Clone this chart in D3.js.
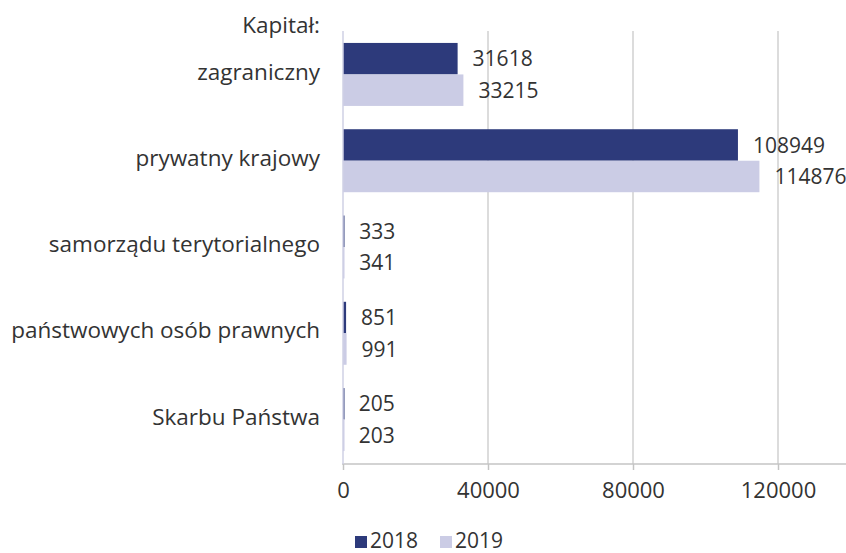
<!DOCTYPE html>
<html>
<head>
<meta charset="utf-8">
<script src="https://cdn.jsdelivr.net/npm/d3@7"></script>
<style>
  body { margin: 0; background: #fff; }
  text { font-family: "Open Sans", "Noto Sans", sans-serif; fill: #333; }
</style>
</head>
<body>
<div id="chart"></div>
<script>
const categories = [
  "zagraniczny",
  "prywatny krajowy",
  "samorządu terytorialnego",
  "państwowych osób prawnych",
  "Skarbu Państwa",
];
const years = ["2018", "2019"];
const values2018 = [31618, 108949, 333, 851, 205];
const values2019 = [33215, 114876, 341, 991, 203];
const xTicks = [0, 40000, 80000, 120000];
const colors = { 2018: "#2d3a7b", 2019: "#cbcce5" };

const width = 846;
const height = 553;

const data = categories.map((c, i) => ({
  category: c,
  values: [
    { year: "2018", value: values2018[i] },
    { year: "2019", value: values2019[i] },
  ],
}));

const svg = d3
  .select("#chart")
  .append("svg")
  .attr("width", width)
  .attr("height", height);

const x = d3.scaleLinear().domain([0, 140000]).range([343, 850.5]);

const y = d3
  .scaleBand()
  .domain(categories)
  .range([30, 464])
  .paddingInner(0.27)
  .paddingOuter(0.15);

const yInner = d3.scaleBand().domain(years).range([0, y.bandwidth()]);

// gridlines
svg
  .selectAll("line.grid")
  .data(xTicks.slice(1))
  .join("line")
  .attr("class", "grid")
  .attr("x1", (d) => x(d))
  .attr("x2", (d) => x(d))
  .attr("y1", 31)
  .attr("y2", 464)
  .attr("stroke", "#d0d0d0")
  .attr("stroke-width", 1.5);

// bottom axis
const xAxis = svg
  .append("g")
  .attr("transform", "translate(0,464)")
  .call(d3.axisBottom(x).tickValues(xTicks).tickSize(6).tickPadding(12).tickFormat((d) => d));
xAxis.select(".domain").attr("stroke", "#c4c4c4").attr("stroke-width", 1.5)
  .attr("d", `M${x(0) - 1},0H${width}`);
xAxis.selectAll(".tick line").attr("stroke", "#c4c4c4").attr("stroke-width", 1.5);
xAxis.selectAll(".tick text").style("font-size", "22px").style("font-family", "Open Sans").attr("fill", "#333");

// bars
const groups = svg
  .selectAll("g.cat")
  .data(data)
  .join("g")
  .attr("class", "cat")
  .attr("transform", (d) => `translate(0,${y(d.category)})`);

groups
  .selectAll("rect")
  .data((d) => d.values)
  .join("rect")
  .attr("x", x(0))
  .attr("y", (d) => yInner(d.year))
  .attr("width", (d) => Math.max(x(d.value) - x(0), 1.5))
  .attr("height", yInner.bandwidth())
  .attr("fill", (d) => colors[d.year]);

groups
  .selectAll("text.val")
  .data((d) => d.values)
  .join("text")
  .attr("class", "val")
  .attr("x", (d) => x(d.value) + 15)
  .attr("y", (d) => yInner(d.year) + yInner.bandwidth() / 2)
  .attr("dy", "0.36em")
  .style("font-size", "21px")
  .text((d) => d.value);

// left axis line
svg
  .append("line")
  .attr("x1", x(0))
  .attr("x2", x(0))
  .attr("y1", 31)
  .attr("y2", 464)
  .attr("stroke", "#cfd0e4")
  .attr("stroke-width", 1.5);

// category labels
svg
  .selectAll("text.cat-label")
  .data(categories)
  .join("text")
  .attr("class", "cat-label")
  .attr("text-anchor", "end")
  .attr("x", 320)
  .attr("y", (d) => y(d) + y.bandwidth() / 2 - 3)
  .attr("dy", "0.36em")
  .style("font-size", "22.5px")
  .text((d) => d);

svg
  .append("text")
  .attr("text-anchor", "end")
  .attr("x", 320)
  .attr("y", 33)
  .style("font-size", "22.5px")
  .text("Kapitał:");

// legend
const legend = svg
  .selectAll("g.legend")
  .data(years)
  .join("g")
  .attr("class", "legend")
  .attr("transform", (d, i) => `translate(${355 + i * 85},536)`);

legend
  .append("rect")
  .attr("width", 12)
  .attr("height", 12)
  .attr("fill", (d) => colors[d]);

legend
  .append("text")
  .attr("x", 15)
  .attr("y", 12)
  .style("font-size", "21px")
  .text((d) => d);
</script>
</body>
</html>
